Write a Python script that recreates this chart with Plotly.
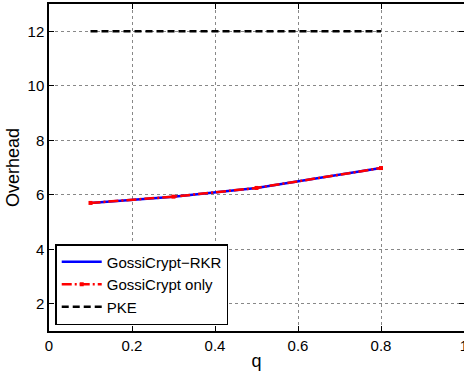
import plotly.graph_objects as go

q_vals = [0.1, 0.3, 0.5, 0.8]
rkr_overhead = [5.70, 5.93, 6.25, 6.98]
only_overhead = [5.70, 5.93, 6.25, 6.98]
pke_overhead = [12, 12, 12, 12]
x_ticks = [0, 0.2, 0.4, 0.6, 0.8, 1]
x_tick_labels = ["0", "0.2", "0.4", "0.6", "0.8", "1"]
y_ticks = [2, 4, 6, 8, 10, 12]

fig = go.Figure()
fig.add_trace(go.Scatter(x=q_vals, y=rkr_overhead, mode="lines", name="GossiCrypt\u2212RKR",
                         line=dict(color="#0000ff", width=2.5)))
fig.add_trace(go.Scatter(x=q_vals, y=only_overhead, mode="lines+markers", name="GossiCrypt only",
                         line=dict(color="#ff0000", width=2.5, dash="10px,3px,2px,3px"),
                         marker=dict(symbol="square", size=4, color="#ff0000")))
fig.add_trace(go.Scatter(x=q_vals, y=pke_overhead, mode="lines", name="PKE",
                         line=dict(color="#000000", width=2.5, dash="7px,4px")))

font = "Liberation Sans, Arial, Helvetica, sans-serif"
fig.update_layout(
    width=464, height=373,
    margin=dict(l=49, r=0, t=4, b=42, autoexpand=False),
    paper_bgcolor="white", plot_bgcolor="white",
    font=dict(family=font, size=15, color="black"),
    showlegend=True,
    legend=dict(x=0.015, y=0.018, xanchor="left", yanchor="bottom",
                bordercolor="black", borderwidth=1.5, bgcolor="white",
                font=dict(size=15), tracegroupgap=0, itemwidth=40),
    xaxis=dict(range=[0, 1], tickvals=x_ticks, ticktext=x_tick_labels,
               showline=True, linecolor="black", linewidth=1.5, mirror="ticks",
               ticks="inside", ticklen=5, tickcolor="black",
               showgrid=True, gridcolor="#888888", griddash="dot", gridwidth=1,
               zeroline=False, ticklabeloverflow="allow", automargin=False,
               title=dict(text="q", standoff=2)),
    yaxis=dict(range=[1, 13], tickvals=y_ticks,
               showline=True, linecolor="black", linewidth=1.5, mirror="ticks",
               ticks="inside", ticklen=5, tickcolor="black",
               showgrid=True, gridcolor="#888888", griddash="dot", gridwidth=1,
               zeroline=False, automargin=False,
               title=dict(text="Overhead", standoff=3)),
)

fig.write_html("out.html", config={"displayModeBar": False},
               post_script="document.body.style.margin='0';document.body.style.overflow='hidden';")
